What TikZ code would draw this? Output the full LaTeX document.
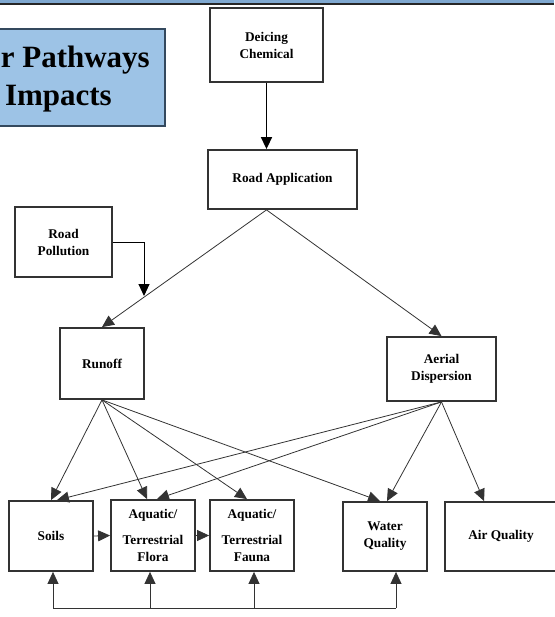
\documentclass[tikz,border=0pt]{standalone}
\usepackage{fontspec}
\setmainfont{Liberation Serif}
\usetikzlibrary{arrows.meta,calc}
\definecolor{titleblue}{HTML}{9DC3E6}
\definecolor{titleedge}{HTML}{34495E}
\definecolor{bandblue}{HTML}{7FA8D0}
\definecolor{linegray}{HTML}{333333}
\begin{document}
\begin{tikzpicture}[x=1pt,y=-1pt,
  box/.style={draw=linegray,line width=1.8pt,fill=white,inner sep=0pt,align=center,
    font=\fontsize{13.3}{17}\selectfont\bfseries},
  tip/.style={-{Triangle[length=12pt,width=11pt]}},
  conn/.style={tip,draw=linegray,line width=0.8pt},
  thick conn/.style={tip,draw=black,line width=1.6pt}]
\useasboundingbox (0,0) rectangle (554,617);
% top band
\fill[bandblue] (0,0) rectangle (554,3);
\fill[black!85] (0,3) rectangle (554,4.8);
% title box
\begin{scope}
\clip (0,0) rectangle (554,617);
\node[draw=titleedge,line width=1.2pt,fill=titleblue,minimum width=185pt,minimum height=97pt,inner sep=0pt] (title) at (72.5,77.5) {};
\node[anchor=base east,inner sep=0pt,font=\fontsize{31}{31}\selectfont\bfseries] (t1) at (150,68) {r Pathways};
\node[anchor=base east,inner sep=0pt,font=\fontsize{31}{31}\selectfont\bfseries] (t2) at (112,106) {Impacts};
\end{scope}
% boxes
\node[box,minimum width=113pt,minimum height=74pt] (dc) at (266.5,45) {Deicing\\Chemical};
\node[box,minimum width=149pt,minimum height=59pt] (ra) at (282.5,179.5) {Road Application};
\node[box,minimum width=97pt,minimum height=70pt] (rp) at (63.5,242) {Road\\Pollution};
\node[box,minimum width=84pt,minimum height=71pt] (ro) at (102,363.5) {Runoff};
\node[box,minimum width=109pt,minimum height=64pt] (ad) at (441.5,369) {Aerial\\Dispersion};
\node[box,minimum width=84pt,minimum height=70pt] (so) at (51,536) {Soils};
\node[box,minimum width=84pt,minimum height=71pt] (fl) at (153,535.5) {Aquatic/\\[9pt]Terrestrial\\Flora};
\node[box,minimum width=84pt,minimum height=71pt] (fa) at (252,535.5) {Aquatic/\\[9pt]Terrestrial\\Fauna};
\node[box,minimum width=84pt,minimum height=69pt] (wq) at (385,536.5) {Water\\Quality};
\node[box,minimum width=112pt,minimum height=69pt] (aq) at (501,536.5) {Air Quality};
% top arrows
\draw[thick conn] (dc.south) -- (dc.south |- ra.north);
\coordinate (raout) at (dc.south |- ra.south);
\draw[conn] (raout) -- (ro.north);
\draw[conn] (raout) -- (ad.north);
\coordinate (rpend) at (144,296);
\draw[thick conn,line width=1pt] (rp.east) -| (rpend);
% runoff fan
\draw[conn] (ro.south) -- (so.north);
\draw[conn] (ro.south) -- ($(fl.north)+(-6,0)$);
\draw[conn] (ro.south) -- ($(fa.north)+(-5,0)$);
\draw[conn] (ro.south) -- ($(wq.north)+(-5,0)$);
% aerial fan
\draw[conn] (ad.south) -- ($(so.north)+(6,0)$);
\draw[conn] (ad.south) -- ($(fl.north)+(4,0)$);
\draw[conn] (ad.south) -- ($(wq.north)+(2,0)$);
\draw[conn] (ad.south) -- ($(aq.north west)+(40,0)$);
% horizontal links
\draw[conn] (so.east) -- (fl.west);
\draw[conn] (fl.east) -- (fa.west);
% bottom feedback bus
\coordinate (b1) at (53,608);
\coordinate (b2) at (150,608);
\coordinate (b3) at (254,608);
\coordinate (b4) at (396,608);
\draw[draw=linegray,line width=0.8pt] (b1) -- (b4);
\draw[conn] (b1) -- (b1 |- so.south);
\draw[conn] (b2) -- (b2 |- fl.south);
\draw[conn] (b3) -- (b3 |- fa.south);
\draw[conn] (b4) -- (b4 |- wq.south);
\end{tikzpicture}
\end{document}
